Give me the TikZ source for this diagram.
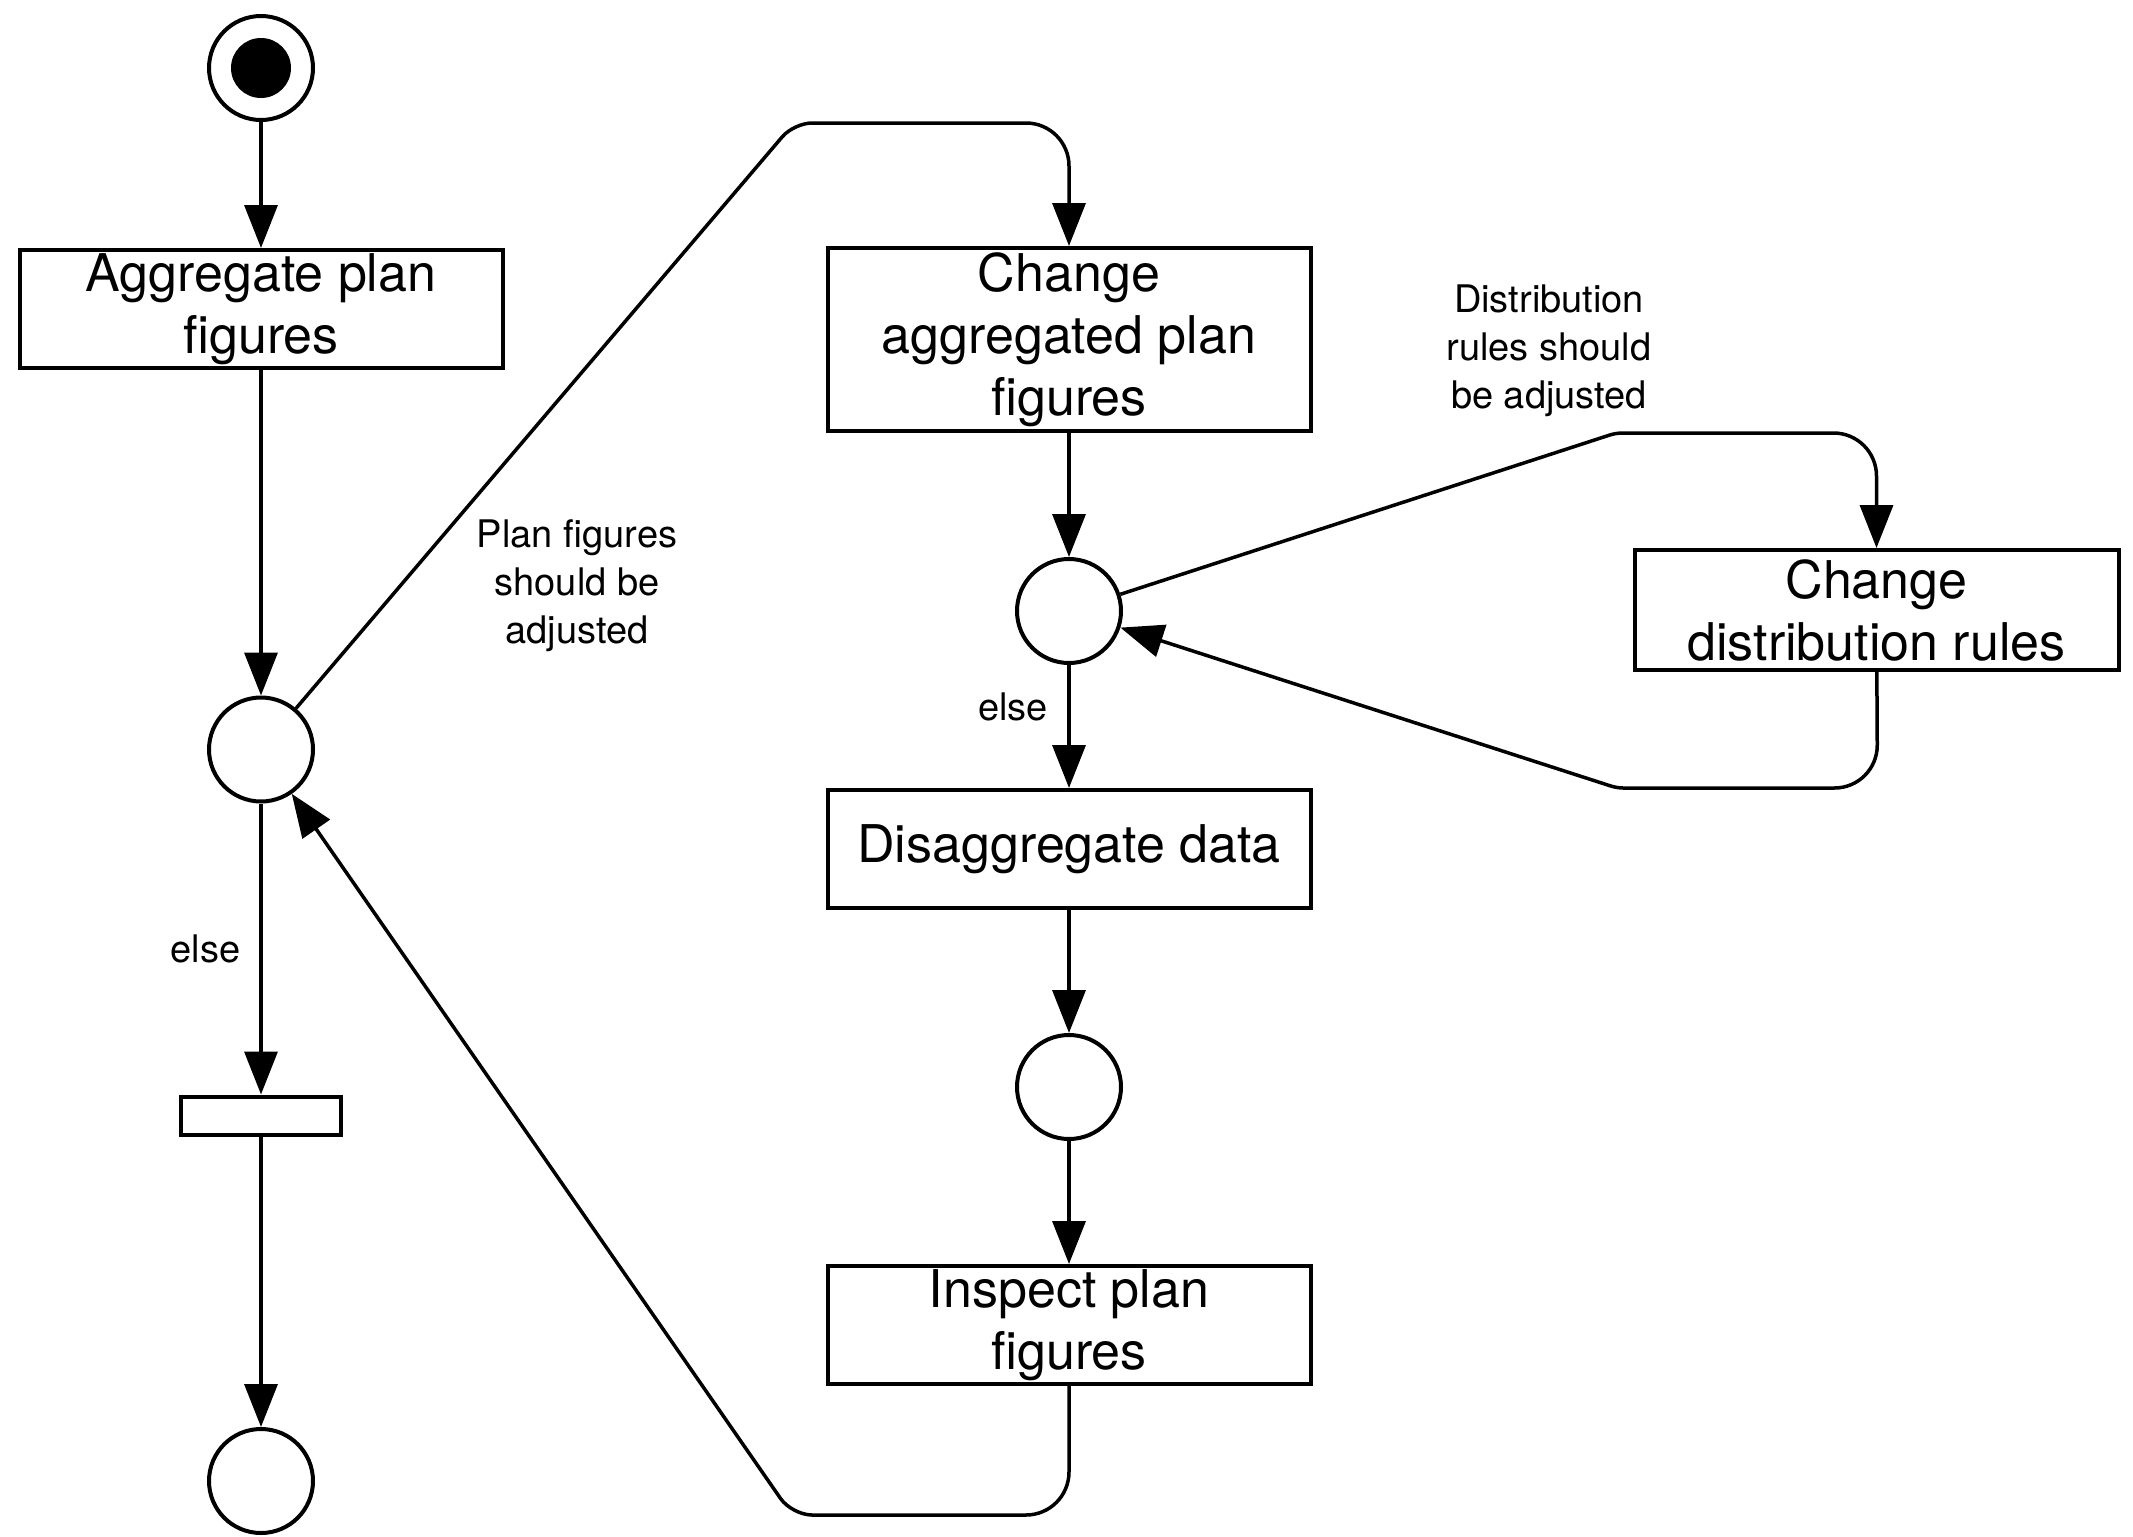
\documentclass[tikz,border=0pt]{standalone}
\usepackage{fontspec}
\setmainfont{TeX Gyre Heros}
\usetikzlibrary{arrows.meta}
\begin{document}
\begin{tikzpicture}[x=0.5pt,y=-0.5pt,
  box/.style={draw, line width=2pt, minimum width=241.5pt, minimum height=59pt,
    inner sep=0pt, align=center, font=\fontsize{26}{31}\selectfont},
  place/.style={draw, circle, line width=2pt, minimum size=52pt, inner sep=0pt},
  bar/.style={draw, line width=2pt, minimum width=80pt, minimum height=19pt, inner sep=0pt},
  arr/.style={line width=1.75pt, -{Triangle[length=21.5pt,width=16.5pt]}},
  lbl/.style={align=center, font=\fontsize{19}{24}\selectfont, inner sep=0pt}]
\useasboundingbox (0,0) rectangle (2133,1537);

% initial marking
\node[place] (start) at (261,68) {};
\node[circle, fill, minimum size=30pt, inner sep=0pt] (startdot) at (261,68) {};

% left column
\node[box] (agg) at (261,309) {Aggregate plan\\figures};
\node[place] (p1) at (261,749.5) {};
\node[bar] (bar) at (261,1115.5) {};
\node[place] (pend) at (261,1481) {};

% middle column
\node[box, minimum height=91.3pt] (chg) at (1069,339.3) {Change\\aggregated plan\\figures};
\node[place] (p2) at (1069,611) {};
\node[box] (dis) at (1069,849) {Disaggregate data};
\node[place] (p3) at (1069,1087) {};
\node[box] (ins) at (1069,1325) {Inspect plan\\figures};

% right column
\node[box, minimum width=242pt, minimum height=60pt] (dist) at (1876.5,610) {Change\\distribution rules};

% labels
\node[lbl] (else1) at (205.5,949) {else};
\node[lbl] (else2) at (1013,707) {else};
\node[lbl] (lab1) at (577,586) {Plan figures\\should be\\adjusted};
\node[lbl] (lab2) at (1549,351) {Distribution\\rules should\\be adjusted};

% straight flows
\draw[arr] (start) -- (agg);
\draw[arr] (agg) -- (p1);
\draw[arr] (p1) -- (bar);
\draw[arr] (bar) -- (pend);
\draw[arr] (chg) -- (p2);
\draw[arr] (p2) -- (dis);
\draw[arr] (dis) -- (p3);
\draw[arr] (p3) -- (ins);

% routed flows (corner radius set on the segment leading into each bend)
\coordinate (a1) at (794,123);
\coordinate (a2) at (1069,123);
\draw[arr] (p1) [rounded corners=9pt] -- (a1) [rounded corners=21.5pt] -- (a2) -- (chg);

\coordinate (b1) at (1069,1515);
\coordinate (b2) at (792,1515);
\draw[arr] (ins) [rounded corners=21.5pt] -- (b1) [rounded corners=10pt] -- (b2) -- (p1);

\coordinate (d1) at (1616,433);
\coordinate (d2) at (1876.5,433);
\draw[arr] (p2) [rounded corners=3pt] -- (d1) [rounded corners=21.5pt] -- (d2) -- (dist);

\coordinate (e1) at (1877.5,788);
\coordinate (e2) at (1617,788);
\draw[arr] (dist) [rounded corners=21.5pt] -- (e1) [rounded corners=3pt] -- (e2) -- (p2);
\end{tikzpicture}
\end{document}
